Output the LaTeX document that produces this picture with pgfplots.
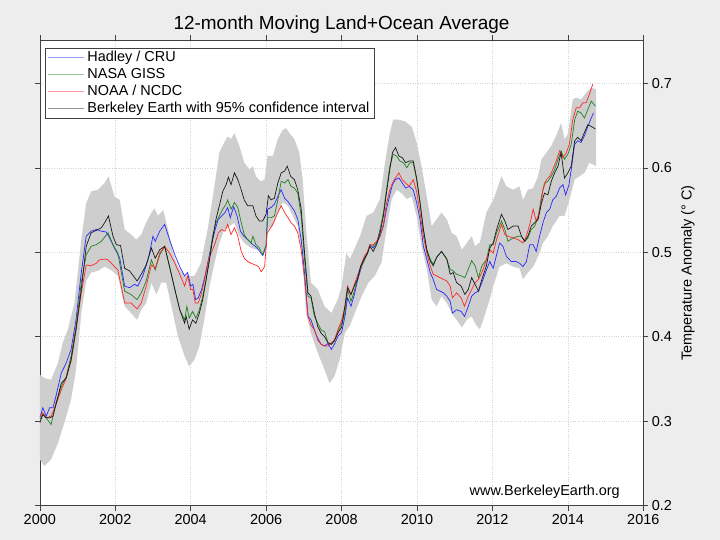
\documentclass[border=0pt]{standalone}
\usepackage{fontspec}
\setmainfont{Liberation Sans}
\usepackage{pgfplots}
\usepackage{pgfplotstable}
\pgfplotsset{compat=1.18}
\definecolor{figbg}{RGB}{237,237,237}
\definecolor{bandc}{RGB}{206,206,206}
\definecolor{cblue}{RGB}{40,40,255}
\definecolor{cgreen}{RGB}{30,130,30}
\definecolor{cred}{RGB}{255,40,40}
\definecolor{cblack}{RGB}{25,25,25}
\definecolor{lblue}{RGB}{155,155,255}
\definecolor{lgreen}{RGB}{150,205,150}
\definecolor{lred}{RGB}{255,155,155}
\definecolor{lblack}{RGB}{150,150,150}
\newcommand{\fs}{\fontsize{14.5}{17}\selectfont}
\pgfplotsset{
  limg/.style={legend image code/.code={\draw[draw=#1, line width=1.4pt] (0bp,0bp) -- (36bp,0bp);}}
}

\pgfplotstableread{
x y
2000.00 0.304
2000.08 0.316
2000.17 0.306
2000.26 0.316
2000.35 0.316
2000.43 0.330
2000.57 0.357
2000.70 0.369
2000.83 0.385
2000.96 0.420
2001.10 0.476
2001.23 0.519
2001.36 0.525
2001.50 0.527
2001.63 0.525
2001.76 0.524
2001.85 0.517
2001.98 0.505
2002.12 0.493
2002.25 0.460
2002.38 0.458
2002.51 0.462
2002.60 0.460
2002.73 0.472
2002.87 0.491
2003.00 0.519
2003.06 0.513
2003.18 0.525
2003.31 0.533
2003.44 0.515
2003.58 0.497
2003.71 0.483
2003.84 0.472
2003.92 0.476
2004.00 0.460
2004.06 0.462
2004.13 0.444
2004.20 0.446
2004.29 0.456
2004.38 0.472
2004.47 0.491
2004.56 0.511
2004.65 0.527
2004.73 0.539
2004.82 0.543
2004.91 0.547
2004.98 0.553
2005.05 0.541
2005.14 0.554
2005.23 0.543
2005.32 0.525
2005.41 0.519
2005.51 0.515
2005.60 0.511
2005.71 0.507
2005.80 0.503
2005.91 0.496
2006.00 0.507
2006.04 0.551
2006.13 0.553
2006.22 0.557
2006.31 0.566
2006.40 0.574
2006.49 0.564
2006.58 0.560
2006.66 0.555
2006.75 0.549
2006.84 0.539
2006.93 0.515
2007.02 0.475
2007.11 0.424
2007.19 0.420
2007.28 0.408
2007.37 0.398
2007.46 0.391
2007.55 0.389
2007.64 0.392
2007.73 0.385
2007.81 0.391
2007.91 0.401
2008.00 0.405
2008.09 0.424
2008.16 0.446
2008.25 0.436
2008.34 0.450
2008.42 0.466
2008.51 0.480
2008.60 0.492
2008.69 0.499
2008.75 0.509
2008.84 0.505
2008.93 0.511
2009.02 0.519
2009.11 0.531
2009.19 0.551
2009.28 0.568
2009.35 0.580
2009.43 0.586
2009.52 0.588
2009.61 0.582
2009.70 0.576
2009.79 0.578
2009.90 0.574
2009.99 0.559
2010.08 0.539
2010.17 0.507
2010.26 0.492
2010.35 0.476
2010.43 0.468
2010.52 0.456
2010.61 0.454
2010.70 0.452
2010.79 0.448
2010.88 0.442
2010.94 0.428
2011.05 0.432
2011.17 0.430
2011.26 0.424
2011.36 0.436
2011.45 0.448
2011.54 0.452
2011.63 0.454
2011.72 0.464
2011.84 0.479
2011.93 0.489
2012.02 0.481
2012.11 0.497
2012.19 0.511
2012.28 0.507
2012.37 0.495
2012.50 0.489
2012.63 0.489
2012.72 0.487
2012.81 0.483
2012.90 0.489
2012.99 0.509
2013.08 0.509
2013.16 0.501
2013.25 0.519
2013.34 0.535
2013.43 0.547
2013.52 0.551
2013.60 0.562
2013.69 0.566
2013.78 0.576
2013.87 0.580
2013.94 0.568
2014.03 0.580
2014.09 0.598
2014.18 0.628
2014.26 0.632
2014.35 0.630
2014.44 0.638
2014.53 0.649
2014.62 0.659
2014.68 0.665
}\hadley

\pgfplotstableread{
x y
2000.00 0.302
2000.08 0.308
2000.17 0.304
2000.30 0.296
2000.43 0.322
2000.57 0.341
2000.70 0.353
2000.83 0.377
2000.96 0.412
2001.10 0.464
2001.23 0.497
2001.36 0.507
2001.50 0.509
2001.63 0.513
2001.81 0.523
2001.94 0.509
2002.07 0.499
2002.25 0.454
2002.42 0.450
2002.58 0.444
2002.69 0.452
2002.82 0.466
2002.96 0.491
2003.06 0.479
2003.18 0.497
2003.31 0.507
2003.44 0.483
2003.58 0.456
2003.71 0.432
2003.84 0.420
2003.90 0.436
2003.96 0.422
2004.05 0.430
2004.14 0.422
2004.23 0.432
2004.32 0.448
2004.41 0.468
2004.50 0.495
2004.58 0.519
2004.67 0.535
2004.76 0.543
2004.85 0.551
2004.94 0.557
2004.98 0.562
2005.07 0.551
2005.16 0.559
2005.25 0.553
2005.34 0.535
2005.42 0.521
2005.51 0.515
2005.60 0.511
2005.65 0.519
2005.73 0.509
2005.82 0.505
2005.91 0.497
2006.00 0.509
2006.04 0.541
2006.13 0.541
2006.22 0.543
2006.31 0.562
2006.40 0.584
2006.49 0.582
2006.58 0.586
2006.66 0.578
2006.75 0.576
2006.84 0.570
2006.93 0.543
2007.02 0.491
2007.11 0.448
2007.19 0.446
2007.28 0.424
2007.37 0.416
2007.46 0.408
2007.55 0.406
2007.64 0.393
2007.73 0.391
2007.81 0.396
2007.91 0.407
2008.00 0.415
2008.09 0.428
2008.16 0.456
2008.25 0.442
2008.34 0.454
2008.42 0.468
2008.51 0.482
2008.60 0.490
2008.69 0.499
2008.75 0.508
2008.84 0.507
2008.93 0.511
2009.02 0.527
2009.11 0.547
2009.19 0.574
2009.28 0.602
2009.37 0.616
2009.46 0.614
2009.55 0.608
2009.64 0.606
2009.73 0.600
2009.81 0.606
2009.90 0.606
2009.99 0.586
2010.08 0.559
2010.17 0.527
2010.26 0.503
2010.35 0.492
2010.43 0.486
2010.52 0.494
2010.65 0.501
2010.79 0.492
2010.88 0.480
2010.96 0.478
2011.05 0.474
2011.17 0.472
2011.27 0.470
2011.36 0.480
2011.45 0.490
2011.54 0.484
2011.63 0.470
2011.72 0.484
2011.84 0.491
2011.93 0.509
2012.02 0.509
2012.11 0.523
2012.24 0.537
2012.33 0.527
2012.41 0.513
2012.55 0.517
2012.68 0.519
2012.77 0.519
2012.86 0.513
2012.94 0.517
2013.03 0.527
2013.12 0.531
2013.21 0.541
2013.30 0.566
2013.38 0.582
2013.47 0.584
2013.56 0.590
2013.65 0.598
2013.74 0.610
2013.82 0.620
2013.91 0.610
2014.00 0.616
2014.09 0.628
2014.18 0.657
2014.26 0.667
2014.35 0.665
2014.44 0.659
2014.53 0.669
2014.62 0.679
2014.73 0.673
}\giss

\pgfplotstableread{
x y
2000.00 0.306
2000.08 0.310
2000.17 0.304
2000.30 0.306
2000.43 0.320
2000.57 0.337
2000.70 0.351
2000.83 0.371
2000.96 0.408
2001.10 0.452
2001.23 0.485
2001.36 0.484
2001.50 0.487
2001.58 0.491
2001.72 0.492
2001.81 0.491
2001.94 0.485
2002.07 0.479
2002.25 0.440
2002.42 0.440
2002.58 0.433
2002.69 0.440
2002.82 0.460
2002.96 0.485
2003.06 0.481
2003.18 0.499
2003.31 0.507
2003.44 0.499
2003.58 0.487
2003.71 0.474
2003.84 0.460
2003.92 0.472
2004.00 0.456
2004.06 0.456
2004.12 0.440
2004.20 0.440
2004.29 0.452
2004.38 0.470
2004.47 0.491
2004.56 0.501
2004.65 0.511
2004.73 0.523
2004.82 0.527
2004.91 0.525
2004.98 0.533
2005.07 0.521
2005.16 0.529
2005.25 0.519
2005.34 0.501
2005.42 0.493
2005.51 0.489
2005.60 0.487
2005.71 0.485
2005.80 0.483
2005.87 0.477
2005.96 0.483
2006.03 0.523
2006.12 0.529
2006.20 0.535
2006.29 0.545
2006.40 0.555
2006.49 0.547
2006.58 0.541
2006.66 0.535
2006.75 0.531
2006.84 0.523
2006.93 0.503
2007.02 0.468
2007.11 0.424
2007.19 0.414
2007.28 0.408
2007.37 0.396
2007.46 0.391
2007.55 0.389
2007.64 0.389
2007.73 0.393
2007.81 0.396
2007.91 0.409
2008.00 0.419
2008.09 0.436
2008.16 0.460
2008.25 0.450
2008.34 0.462
2008.42 0.472
2008.51 0.484
2008.60 0.495
2008.69 0.501
2008.75 0.509
2008.84 0.509
2008.93 0.513
2009.02 0.519
2009.11 0.533
2009.19 0.557
2009.28 0.574
2009.37 0.584
2009.46 0.590
2009.52 0.594
2009.61 0.586
2009.70 0.582
2009.79 0.578
2009.90 0.586
2009.99 0.572
2010.08 0.547
2010.17 0.519
2010.26 0.499
2010.35 0.484
2010.43 0.474
2010.52 0.472
2010.61 0.470
2010.70 0.468
2010.79 0.466
2010.88 0.460
2010.94 0.446
2011.05 0.452
2011.17 0.446
2011.26 0.436
2011.36 0.448
2011.45 0.456
2011.54 0.464
2011.63 0.468
2011.72 0.476
2011.84 0.491
2011.93 0.503
2012.02 0.499
2012.11 0.515
2012.24 0.533
2012.33 0.521
2012.41 0.519
2012.55 0.517
2012.68 0.515
2012.81 0.511
2012.90 0.519
2012.99 0.533
2013.08 0.551
2013.16 0.537
2013.25 0.547
2013.34 0.574
2013.43 0.586
2013.52 0.590
2013.60 0.598
2013.69 0.608
2013.78 0.620
2013.87 0.612
2013.96 0.618
2014.04 0.628
2014.13 0.657
2014.22 0.671
2014.31 0.671
2014.40 0.677
2014.49 0.677
2014.57 0.687
2014.66 0.699
}\noaa

\pgfplotstableread{
x y
2000.00 0.298
2000.08 0.308
2000.17 0.304
2000.26 0.304
2000.35 0.306
2000.43 0.320
2000.57 0.345
2000.70 0.351
2000.83 0.373
2000.96 0.408
2001.10 0.456
2001.23 0.507
2001.36 0.523
2001.50 0.526
2001.63 0.529
2001.72 0.535
2001.82 0.543
2001.94 0.519
2002.03 0.509
2002.14 0.508
2002.25 0.481
2002.38 0.478
2002.58 0.466
2002.69 0.474
2002.82 0.485
2002.96 0.505
2003.06 0.493
2003.18 0.503
2003.31 0.507
2003.44 0.483
2003.58 0.456
2003.71 0.432
2003.84 0.416
2003.88 0.424
2003.96 0.409
2004.05 0.420
2004.14 0.416
2004.23 0.428
2004.32 0.444
2004.41 0.468
2004.50 0.491
2004.58 0.515
2004.67 0.539
2004.76 0.555
2004.85 0.572
2004.94 0.580
2005.00 0.589
2005.07 0.580
2005.16 0.594
2005.25 0.586
2005.34 0.574
2005.42 0.562
2005.51 0.555
2005.65 0.555
2005.73 0.543
2005.82 0.537
2005.91 0.537
2006.00 0.545
2006.06 0.567
2006.13 0.562
2006.22 0.564
2006.31 0.582
2006.40 0.594
2006.49 0.596
2006.56 0.602
2006.65 0.590
2006.75 0.586
2006.84 0.574
2006.93 0.551
2007.02 0.499
2007.11 0.452
2007.19 0.448
2007.28 0.428
2007.37 0.412
2007.46 0.404
2007.55 0.400
2007.64 0.393
2007.73 0.391
2007.81 0.395
2007.91 0.405
2008.00 0.411
2008.09 0.436
2008.16 0.458
2008.25 0.450
2008.34 0.460
2008.42 0.468
2008.51 0.484
2008.60 0.492
2008.69 0.499
2008.75 0.507
2008.84 0.501
2008.93 0.509
2009.02 0.523
2009.11 0.543
2009.19 0.570
2009.28 0.598
2009.35 0.618
2009.43 0.624
2009.52 0.614
2009.61 0.612
2009.70 0.606
2009.79 0.608
2009.90 0.608
2009.99 0.588
2010.08 0.559
2010.17 0.527
2010.26 0.503
2010.35 0.490
2010.43 0.484
2010.52 0.494
2010.65 0.501
2010.79 0.492
2010.88 0.474
2010.96 0.476
2011.05 0.464
2011.17 0.460
2011.27 0.450
2011.36 0.456
2011.45 0.470
2011.54 0.462
2011.63 0.454
2011.72 0.468
2011.84 0.484
2011.93 0.505
2012.02 0.511
2012.11 0.527
2012.24 0.545
2012.33 0.537
2012.41 0.527
2012.55 0.531
2012.68 0.531
2012.77 0.519
2012.86 0.513
2012.94 0.519
2013.03 0.531
2013.12 0.535
2013.21 0.539
2013.30 0.558
2013.38 0.570
2013.47 0.568
2013.56 0.584
2013.65 0.594
2013.74 0.602
2013.82 0.618
2013.91 0.588
2014.00 0.594
2014.09 0.602
2014.18 0.632
2014.26 0.636
2014.35 0.632
2014.44 0.642
2014.53 0.651
2014.62 0.649
2014.73 0.646
}\berkeley

% 95% confidence band: upper edge forward, then lower edge backward
\pgfplotstableread{
x y
2000.00 0.355
2000.12 0.351
2000.30 0.349
2000.48 0.369
2000.61 0.393
2000.74 0.408
2000.92 0.440
2001.10 0.515
2001.23 0.558
2001.36 0.572
2001.54 0.574
2001.72 0.582
2001.82 0.590
2001.98 0.566
2002.12 0.562
2002.25 0.527
2002.42 0.521
2002.56 0.515
2002.69 0.521
2002.82 0.535
2002.96 0.547
2003.04 0.552
2003.13 0.543
2003.27 0.550
2003.40 0.527
2003.53 0.499
2003.66 0.483
2003.84 0.472
2004.10 0.472
2004.27 0.487
2004.45 0.527
2004.63 0.578
2004.76 0.618
2004.89 0.630
2004.98 0.637
2005.07 0.634
2005.16 0.641
2005.29 0.626
2005.42 0.606
2005.56 0.598
2005.65 0.602
2005.73 0.590
2005.85 0.584
2005.96 0.586
2006.04 0.614
2006.18 0.614
2006.31 0.634
2006.44 0.645
2006.53 0.647
2006.62 0.641
2006.75 0.634
2006.88 0.618
2006.97 0.586
2007.06 0.527
2007.19 0.464
2007.37 0.456
2007.55 0.436
2007.73 0.428
2007.90 0.444
2008.00 0.460
2008.13 0.499
2008.22 0.492
2008.31 0.501
2008.49 0.519
2008.66 0.543
2008.84 0.547
2009.02 0.563
2009.15 0.606
2009.28 0.641
2009.37 0.657
2009.50 0.657
2009.68 0.655
2009.86 0.649
2009.99 0.630
2010.12 0.602
2010.26 0.566
2010.39 0.531
2010.52 0.539
2010.65 0.547
2010.79 0.539
2010.92 0.523
2011.05 0.519
2011.19 0.503
2011.32 0.511
2011.45 0.519
2011.54 0.507
2011.67 0.512
2011.84 0.547
2012.02 0.562
2012.15 0.578
2012.24 0.590
2012.37 0.578
2012.55 0.574
2012.72 0.578
2012.81 0.562
2012.94 0.574
2013.08 0.576
2013.21 0.590
2013.30 0.610
2013.43 0.618
2013.56 0.626
2013.69 0.638
2013.82 0.653
2013.91 0.634
2014.00 0.640
2014.13 0.681
2014.22 0.683
2014.35 0.681
2014.49 0.689
2014.62 0.695
2014.75 0.693
2014.75 0.602
2014.57 0.606
2014.44 0.594
2014.31 0.590
2014.18 0.586
2014.04 0.562
2013.91 0.543
2013.78 0.543
2013.60 0.531
2013.47 0.519
2013.34 0.511
2013.21 0.495
2013.08 0.483
2012.94 0.476
2012.81 0.468
2012.72 0.481
2012.55 0.483
2012.37 0.487
2012.19 0.483
2012.02 0.460
2011.94 0.446
2011.80 0.426
2011.67 0.409
2011.58 0.413
2011.45 0.424
2011.32 0.420
2011.19 0.411
2011.05 0.420
2010.92 0.428
2010.79 0.440
2010.65 0.448
2010.52 0.436
2010.39 0.444
2010.26 0.480
2010.12 0.507
2009.99 0.543
2009.86 0.566
2009.73 0.563
2009.59 0.570
2009.46 0.574
2009.33 0.563
2009.19 0.527
2009.06 0.488
2008.88 0.472
2008.71 0.464
2008.53 0.448
2008.35 0.428
2008.22 0.413
2008.09 0.405
2007.95 0.373
2007.81 0.353
2007.68 0.345
2007.55 0.361
2007.37 0.381
2007.19 0.404
2007.06 0.428
2006.97 0.487
2006.84 0.531
2006.71 0.543
2006.58 0.555
2006.44 0.559
2006.31 0.547
2006.18 0.531
2006.04 0.527
2005.96 0.499
2005.78 0.503
2005.60 0.505
2005.42 0.511
2005.29 0.519
2005.16 0.535
2005.03 0.531
2004.89 0.527
2004.76 0.511
2004.63 0.487
2004.50 0.460
2004.36 0.420
2004.23 0.389
2004.10 0.373
2003.96 0.365
2003.84 0.377
2003.66 0.401
2003.49 0.436
2003.35 0.464
2003.22 0.464
2003.09 0.450
2002.96 0.464
2002.82 0.440
2002.69 0.432
2002.58 0.420
2002.42 0.428
2002.25 0.436
2002.07 0.472
2001.89 0.479
2001.72 0.483
2001.54 0.478
2001.36 0.476
2001.23 0.466
2001.10 0.428
2000.96 0.361
2000.83 0.326
2000.65 0.298
2000.48 0.274
2000.30 0.255
2000.12 0.247
2000.00 0.255
}\band

\begin{document}
\begin{tikzpicture}
\fill[figbg] (-39.8bp,-34.3bp) rectangle (680.2bp,505.7bp);
\begin{axis}[
  at={(0,0)}, anchor=south west,
  scale only axis, width=603.5bp, height=465.2bp,
  xmin=2000, xmax=2016, ymin=0.2, ymax=0.7507,
  xtick={2000,2002,...,2016},
  ytick={0.2,0.3,0.4,0.5,0.6,0.7},
  yticklabel pos=right,
  xtick pos=both, ytick pos=both,
  tick align=outside,
  major tick length=5bp,
  axis background/.style={fill=white},
  axis line style={black!75, line width=0.6pt},
  every tick/.style={black!75, line width=0.6pt},
  grid=major,
  grid style={black!17, dotted, line width=0.6pt},
  tick label style={font=\fs, black},
  /pgf/number format/assume math mode=true,
  xticklabel style={/pgf/number format/1000 sep=},
  yticklabel style={/pgf/number format/fixed, /pgf/number format/precision=1},
  legend cell align=left,
  legend style={at={(0,1)}, anchor=north west, xshift=5.5bp, yshift=-7.2bp,
    draw=black!75, line width=0.6pt, fill=white, font=\fs,
    inner xsep=2bp, inner ysep=1.3bp, row sep=0pt,
    nodes={inner xsep=2.5bp, inner ysep=1.5bp, text height=10.5bp, text depth=3.5bp}},
]
\addplot[fill=bandc, draw=none, forget plot] table {\band};
\addplot[draw=cblue, line width=0.7pt, limg=lblue] table {\hadley};
\addlegendentry{Hadley / CRU}
\addplot[draw=cgreen, line width=0.7pt, limg=lgreen] table {\giss};
\addlegendentry{NASA GISS}
\addplot[draw=cred, line width=0.7pt, limg=lred] table {\noaa};
\addlegendentry{NOAA / NCDC}
\addplot[draw=cblack, line width=0.7pt, limg=lblack] table {\berkeley};
\addlegendentry{Berkeley Earth with 95\% confidence interval}
\end{axis}
\node[font=\fontsize{19}{22}\selectfont, anchor=base] at (301.75bp,475.7bp) {12-month Moving Land+Ocean Average};
\node[font=\fs, rotate=90] at (648.2bp,232.6bp) {Temperature Anomaly (° C)};
\node[font=\fs, anchor=base east] at (583.5bp,10.7bp) {www.BerkeleyEarth.org};
\pgfresetboundingbox
\useasboundingbox (-39.8bp,-34.3bp) rectangle (680.2bp,505.7bp);
\end{tikzpicture}
\end{document}
